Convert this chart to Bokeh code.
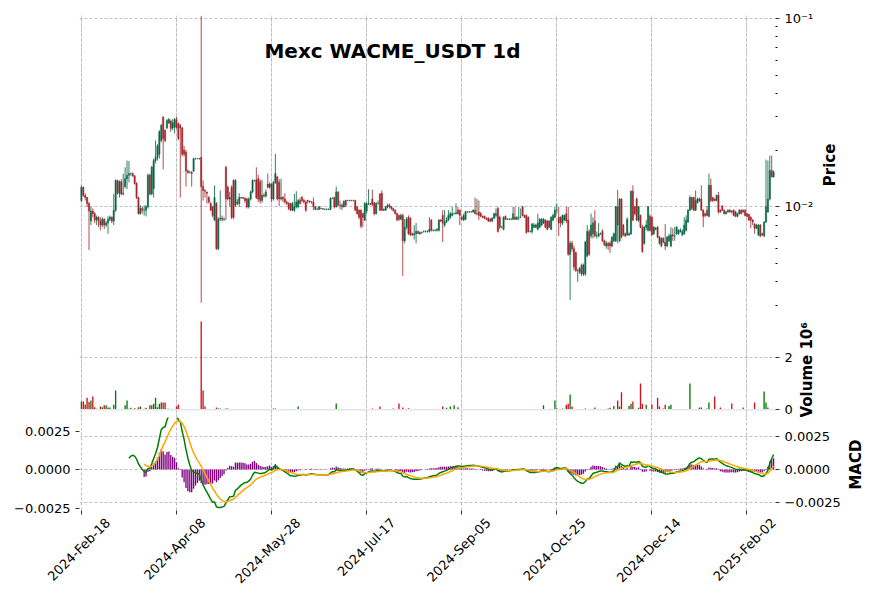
import math
import numpy as np
import pandas as pd
from bokeh.plotting import figure
from bokeh.layouts import column
from bokeh.models import (ColumnDataSource, Range1d, FixedTicker, LinearAxis, Grid,
                          Label, Span, CustomJSTickFormatter)
from bokeh.embed import file_html
from bokeh.resources import INLINE

# ---------------- data (prices in units of 1e-4 USDT, volume in thousands) ----------------
start_date = "2024-02-18"
title_text = "Mexc WACME_USDT 1d"

open_e4 = [
    108,127,115,112,104,84,95,92,85,88,
    84,80,86,80,82,86,88,84,96,138,
    118,136,117,128,141,147,150,150,146,133,
    112,92,98,96,96,100,147,117,125,176,
    183,190,225,299,254,262,278,285,262,265,
    290,276,270,262,200,195,155,152,152,155,
    180,180,180,183,128,122,120,112,104,100,
    85,104,60,86,87,86,162,127,110,127,
    138,102,106,104,112,112,111,110,100,110,
    120,138,139,141,136,108,115,114,132,127,
    132,110,135,144,135,110,112,110,106,104,
    104,96,96,100,100,108,112,108,106,108,
    107,106,106,100,97,97,98,98,97,97,
    97,97,111,112,100,120,102,102,100,108,
    108,108,108,108,108,100,96,96,92,85,
    95,104,104,110,105,92,104,117,118,96,
    96,100,102,100,98,96,92,90,86,90,
    66,78,88,87,72,71,72,74,72,73,
    74,74,74,74,85,75,75,75,75,85,
    90,80,83,85,88,90,92,92,96,96,
    88,85,86,94,94,94,94,96,92,94,
    92,89,89,87,87,86,84,87,90,98,
    88,78,76,89,86,86,86,86,88,86,
    88,88,100,90,90,88,74,74,78,78,
    76,78,80,82,85,84,84,76,85,88,
    96,88,88,82,85,92,85,56,64,60,
    57,46,45,49,44,44,55,74,70,72,
    84,70,70,72,74,66,62,64,64,62,
    66,66,100,66,110,80,72,71,71,72,
    121,100,110,85,90,78,64,78,75,89,
    88,72,76,78,69,62,68,65,62,66,
    62,71,70,72,72,74,71,72,75,83,
    96,112,112,96,105,108,110,96,92,96,
    89,130,112,110,108,115,96,101,96,92,
    94,96,95,96,94,89,92,96,96,96,
    92,91,88,85,81,77,71,80,72,70,
    83,94,110,156,144,
]
high_e4 = [
    130,128,118,113,106,100,98,94,90,89,
    88,88,87,84,89,90,89,117,140,139,
    138,140,150,162,176,175,152,152,147,135,
    113,102,100,102,102,150,150,165,180,225,
    215,255,275,302,258,292,296,290,292,296,
    300,280,275,265,210,200,158,155,155,182,
    182,181,182,1030,138,124,120,114,106,101,
    130,106,88,122,90,88,165,130,120,130,
    140,140,110,118,113,113,112,112,112,122,
    140,139,162,148,140,139,118,124,150,135,
    134,137,191,146,140,141,114,118,108,106,
    105,106,117,121,110,112,114,110,108,109,
    108,107,112,101,99,101,99,98,98,98,
    98,112,112,113,128,121,108,104,108,109,
    109,109,109,109,109,101,97,97,93,106,
    106,124,105,123,106,106,108,118,122,98,
    101,104,104,101,99,97,93,91,92,92,
    86,88,90,88,73,80,82,75,74,74,
    75,75,75,88,86,76,76,77,86,86,
    96,96,88,96,94,100,93,104,100,97,
    89,92,95,95,95,95,97,112,110,108,
    94,90,90,88,88,87,88,93,98,100,
    90,79,89,90,87,87,87,100,100,89,
    100,98,101,91,91,89,75,82,82,81,
    92,87,87,87,86,85,85,89,92,100,
    104,100,89,91,91,100,100,66,66,62,
    58,47,48,50,50,66,80,76,92,88,
    96,74,82,73,76,67,66,65,66,70,
    73,101,123,111,111,81,73,88,73,122,
    130,101,112,101,91,80,79,85,101,91,
    89,79,78,79,70,69,69,81,70,72,
    78,77,78,79,76,77,76,88,90,97,
    115,113,113,122,112,112,130,97,93,101,
    150,141,113,111,116,120,97,102,97,95,
    97,97,96,97,95,93,97,97,97,97,
    93,92,89,86,82,81,81,81,73,84,
    178,176,187,187,156,
]
low_e4 = [
    106,113,108,100,59,80,88,82,80,78,
    75,78,76,78,72,84,82,80,94,116,
    112,115,115,125,124,135,146,144,131,110,
    91,91,92,90,89,98,115,115,112,170,
    176,180,220,158,220,258,275,250,255,245,
    260,225,112,185,185,128,150,150,128,153,
    178,179,178,31,108,112,104,104,95,88,
    84,59,59,84,84,84,85,108,100,86,
    86,100,102,100,110,110,105,98,98,108,
    118,136,110,106,104,105,112,112,125,125,
    106,108,132,108,101,108,106,104,102,96,
    95,95,94,98,98,103,106,104,94,104,
    105,104,96,96,96,96,97,97,96,96,
    96,96,110,98,99,100,97,96,99,100,
    107,107,107,107,95,91,86,77,78,84,
    92,102,102,101,90,91,103,95,95,95,
    95,98,98,96,94,91,84,84,85,43,
    64,76,71,70,70,67,64,72,71,72,
    73,73,73,73,74,74,74,74,74,83,
    65,78,82,84,86,89,91,91,91,80,
    85,84,85,93,93,93,93,91,90,85,
    88,87,86,85,83,83,83,86,88,73,
    76,77,75,85,85,85,85,85,85,85,
    85,87,89,87,72,73,73,72,77,77,
    75,77,79,81,77,75,77,75,84,87,
    92,70,78,80,84,82,55,32,58,46,
    45,40,44,43,43,43,54,55,68,68,
    69,68,69,71,65,62,60,59,57,61,
    65,65,64,65,68,70,69,70,70,71,
    84,90,84,83,77,57,63,75,74,74,
    70,71,75,68,63,61,64,59,61,65,
    61,66,66,71,71,73,70,71,74,82,
    95,96,95,95,104,106,95,78,88,89,
    88,106,106,107,107,92,93,95,91,91,
    93,93,92,89,88,88,91,91,93,89,
    88,84,77,80,72,76,70,69,70,69,
    82,93,108,143,143,
]
close_e4 = [
    127,115,112,104,95,95,92,85,88,84,
    80,86,80,82,86,88,84,96,138,118,
    136,117,118,141,147,150,150,146,133,112,
    92,98,96,96,100,147,117,162,176,183,
    210,250,270,230,225,287,290,260,280,290,
    262,230,262,190,190,155,152,152,150,180,
    180,180,180,128,122,121,118,106,96,90,
    112,60,86,87,86,86,110,110,112,88,
    88,138,104,112,112,111,108,100,110,120,
    138,138,112,110,108,115,114,120,127,132,
    110,135,150,110,110,112,110,106,104,98,
    96,104,100,106,108,104,108,106,96,107,
    106,106,100,97,97,100,98,97,97,97,
    97,111,111,100,120,102,102,100,107,102,
    108,108,108,108,96,92,88,79,88,104,
    104,104,103,103,92,104,104,96,96,97,
    100,102,100,98,96,92,85,86,90,66,
    78,86,72,71,71,72,74,72,73,73,
    74,74,74,76,75,75,75,76,85,84,
    82,83,85,90,92,92,92,93,92,90,
    86,90,94,94,94,94,96,92,92,90,
    89,88,87,86,84,84,87,92,92,74,
    78,78,88,86,86,86,86,92,86,88,
    88,88,90,88,73,74,74,81,80,80,
    82,86,86,86,78,76,78,88,90,96,
    96,82,82,90,90,84,56,64,60,48,
    46,46,47,44,49,65,74,56,80,82,
    70,70,72,72,66,63,64,62,62,69,
    72,100,80,110,69,71,70,86,72,121,
    85,92,85,100,78,58,78,80,100,75,
    71,78,77,69,64,68,65,62,69,70,
    71,70,70,78,75,75,74,80,85,96,
    112,98,96,108,110,110,96,89,90,90,
    130,108,108,108,115,94,94,96,92,94,
    96,94,94,90,89,92,96,92,94,90,
    89,85,85,83,77,80,80,70,71,83,
    100,110,156,144,153,
]
volume_k = [
    320,320,200,460,300,360,510,100,40,30,
    130,100,170,170,90,90,20,190,740,10,
    10,10,20,170,360,40,80,20,60,30,
    100,130,20,40,80,30,170,170,230,460,
    100,230,280,280,280,40,40,20,10,20,
    130,200,20,10,5,10,5,5,5,5,
    2,2,2,3380,740,130,30,5,5,5,
    5,90,50,50,5,5,50,50,5,5,
    5,5,3,3,2,2,2,3,3,3,
    3,2,3,3,13,13,3,3,3,13,
    3,50,50,13,13,3,3,3,13,3,
    3,3,3,3,130,3,3,13,3,3,
    2,2,3,13,2,2,2,1,1,1,
    1,3,2,3,240,3,3,3,3,13,
    2,1,1,1,3,13,13,13,13,3,
    3,3,2,50,3,3,3,130,13,3,
    3,3,3,3,50,3,3,240,3,90,
    13,3,60,3,2,3,13,2,2,1,
    1,1,1,3,3,1,1,1,3,3,
    130,3,80,3,130,3,170,3,100,3,
    2,2,2,1,1,1,2,3,3,3,
    13,2,2,2,2,2,2,2,3,3,
    3,1,2,2,1,1,1,13,3,2,
    2,2,3,2,3,3,1,2,2,2,
    3,2,2,170,3,3,3,3,3,360,
    60,13,3,50,3,190,230,590,130,13,
    13,13,13,13,3,50,3,13,3,3,
    90,3,3,2,3,3,3,50,80,3,
    150,3,360,130,670,3,3,3,150,230,
    320,3,3,80,1010,230,3,190,3,3,
    200,3,3,460,130,3,50,190,3,150,
    190,3,3,3,13,3,3,3,3,3,
    1010,3,3,3,3,90,90,3,3,50,
    280,3,3,510,3,3,90,13,3,3,
    3,3,240,3,3,3,3,3,90,3,
    13,3,3,3,280,3,13,3,3,700,
    280,90,13,3,3,
]
tick_idx = [0, 50, 100, 150, 200, 250, 300, 350]

# ---------------- derived ----------------
n = len(close_e4)
dates = pd.date_range(start_date, periods=n, freq="D")
date_strs = [d.strftime("%Y-%b-%d") for d in dates]
o = np.array(open_e4) * 1e-4
h = np.array(high_e4) * 1e-4
l = np.array(low_e4) * 1e-4
c = np.array(close_e4) * 1e-4
v = np.array(volume_k) * 1e3
idx = np.arange(n)
up = c >= o

UP, DOWN = "#006340", "#A02128"
VUP, VDOWN = "#007a00", "#d50d18"

cs = pd.Series(c)
ema12 = cs.ewm(span=12, adjust=False, min_periods=12).mean()
ema26 = cs.ewm(span=26, adjust=False, min_periods=26).mean()
macd = ema12 - ema26
signal = macd.ewm(span=9, adjust=False, min_periods=9).mean()
hist = macd - signal

src = ColumnDataSource(dict(
    x=idx, o=o, h=h, l=l, c=c,
    top=np.maximum(o, c), bottom=np.minimum(o, c),
    color=np.where(up, UP, DOWN),
    vol=v / 1e6, vcolor=np.where(up, VUP, VDOWN),
))
msrc = ColumnDataSource(dict(x=idx, macd=macd.values, signal=signal.values, hist=hist.values))

FONT = "DejaVu Sans"
W = 876
LB, RB = 79, 101
xr = Range1d(-1, n)
GRID_COLOR = "#b0b0b0"
NBSP = "\u00a0"


def style_axis(ax):
    ax.axis_line_color = None
    ax.major_tick_line_color = "black"
    ax.major_tick_line_width = 0.8
    ax.major_tick_out = 4
    ax.major_tick_in = 0
    ax.minor_tick_line_color = None
    ax.major_label_text_font = FONT
    ax.major_label_text_font_size = "13px"
    ax.major_label_text_color = "black"
    ax.axis_label_text_font = FONT
    ax.axis_label_text_font_size = "15px"
    ax.axis_label_text_font_style = "bold"
    ax.axis_label_text_color = "black"


def set_label(ax, text, standoff, lift):
    """Axis title reading bottom-to-top; anchored at the panel bottom and lifted by `lift` spaces."""
    ax.axis_label_standoff = standoff
    try:
        ax.axis_label_orientation = math.pi / 2
        ax.axis_label_align = "start"
        ax.axis_label = NBSP * lift + text
    except Exception:
        ax.axis_label = text


def style_grid(g):
    g.grid_line_color = GRID_COLOR
    g.grid_line_dash = "3 2"
    g.grid_line_width = 0.8


def add_xgrid(p):
    g = Grid(dimension=0, ticker=FixedTicker(ticks=tick_idx))
    style_grid(g)
    p.add_layout(g)


# ---------------- price panel (frame y 15..311) ----------------
p1 = figure(width=W, height=311, x_range=xr, y_range=Range1d(0.002785, 0.1034),
            y_axis_type="log", x_axis_location=None, y_axis_location="right",
            title=None, output_backend="svg", toolbar_location=None,
            min_border_left=LB, min_border_right=RB, min_border_top=15, min_border_bottom=0)
p1.outline_line_color = None
ya = p1.yaxis[0]
pt = FixedTicker(ticks=[0.01, 0.1],
                 minor_ticks=[k * 0.001 for k in range(3, 10)] + [k * 0.01 for k in range(2, 10)])
ya.ticker = pt
ya.formatter = CustomJSTickFormatter(code="""
const e = Math.round(Math.log10(tick));
const sup = {"-1": "\\u207b\\u00b9", "-2": "\\u207b\\u00b2", "-3": "\\u207b\\u00b3"};
return "10" + (sup[String(e)] || String(e));
""")
style_axis(ya)
ya.minor_tick_line_color = "black"
ya.minor_tick_out = 2
ya.minor_tick_in = 0
set_label(ya, "Price", 14, 24)
p1.ygrid.ticker = pt
style_grid(p1.ygrid[0])
add_xgrid(p1)

p1.segment(x0="x", y0="l", x1="x", y1="h", line_color="color", line_alpha=0.8,
           line_width=1, source=src)
p1.vbar(x="x", width=0.7, top="top", bottom="bottom", fill_color="color", line_color="color",
        fill_alpha=0.85, line_alpha=0.85, line_width=0.5, source=src)
p1.add_layout(Label(x=313, y=261, x_units="screen", y_units="screen", text=title_text,
                    text_font=FONT, text_font_size="20px", text_font_style="bold",
                    text_align="center", text_baseline="middle", text_color="black"))

# ---------------- volume panel (frame y 311..417) ----------------
p2 = figure(width=W, height=106, x_range=xr, y_range=Range1d(-0.295, 3.766),
            x_axis_location=None, y_axis_location="right",
            title=None, output_backend="svg", toolbar_location=None,
            min_border_left=LB, min_border_right=RB, min_border_top=0, min_border_bottom=0)
p2.outline_line_color = None
va = p2.yaxis[0]
vt = FixedTicker(ticks=[0, 2])
va.ticker = vt
style_axis(va)
set_label(va, "Volume  10\u2076", 11, 0)
p2.ygrid.ticker = vt
style_grid(p2.ygrid[0])
add_xgrid(p2)
p2.add_layout(Span(location=0, dimension="width", line_color="#e4e4ee", line_width=1.5))
p2.vbar(x="x", width=0.7, top="vol", bottom=0, fill_color="vcolor", line_color=None, source=src)

# ---------------- MACD panel (frame y 417..510) ----------------
p3 = figure(width=W, height=187, x_range=xr, y_range=Range1d(-0.003075, 0.0039),
            y_axis_location="right", title=None, output_backend="svg", toolbar_location=None,
            min_border_left=LB, min_border_right=RB, min_border_top=0, min_border_bottom=94)
p3.outline_line_color = None
p3.extra_y_ranges = {"left": Range1d(-0.002662, 0.003377)}
mt = FixedTicker(ticks=[-0.0025, 0, 0.0025])
macd_fmt_code = 'return (tick < 0 ? "\\u2212" : "") + Math.abs(tick).toFixed(4);'
ma = p3.yaxis[0]
ma.ticker = mt
ma.formatter = CustomJSTickFormatter(code=macd_fmt_code)
style_axis(ma)
set_label(ma, "MACD", 12, 4)
la = LinearAxis(y_range_name="left", ticker=FixedTicker(ticks=[-0.0025, 0, 0.0025]),
                formatter=CustomJSTickFormatter(code=macd_fmt_code))
style_axis(la)
p3.add_layout(la, "left")
p3.ygrid.ticker = mt
style_grid(p3.ygrid[0])

# tick marks at the date positions (no labels)
xa = p3.xaxis[0]
xt = FixedTicker(ticks=tick_idx)
xa.ticker = xt
xa.formatter = CustomJSTickFormatter(code='return "";')
xa.major_label_standoff = 0
style_axis(xa)
p3.xgrid.ticker = xt
style_grid(p3.xgrid[0])

# date labels, rotated 45 degrees and centred on their ticks like the reference
label_shift = 14
lab_axis = LinearAxis(ticker=FixedTicker(ticks=[t + label_shift for t in tick_idx]),
                      formatter=CustomJSTickFormatter(args=dict(labels=date_strs, shift=label_shift), code="""
const i = Math.round(tick - shift);
return (i >= 0 && i < labels.length) ? labels[i] : "";
"""))
style_axis(lab_axis)
lab_axis.major_tick_line_color = None
lab_axis.major_tick_out = 0
lab_axis.major_label_standoff = 6
lab_axis.major_label_orientation = math.pi / 4
p3.add_layout(lab_axis, "below")

p3.vbar(x="x", width=0.7, top="hist", bottom=0, fill_color="#800080", line_color=None, source=msrc)
p3.line("x", "macd", line_color="#008000", line_width=1.5, source=msrc)
p3.line("x", "signal", line_color="#ffa500", line_width=1.5, source=msrc)

layout = column(p1, p2, p3)
open("out.html", "w").write(file_html(layout, INLINE, title=title_text))
